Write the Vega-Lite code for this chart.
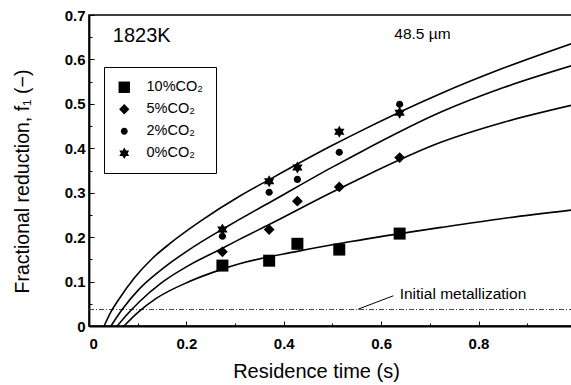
{
  "$schema": "https://vega.github.io/schema/vega-lite/v6.json",
  "width": 483,
  "height": 311,
  "autosize": {"type": "none"},
  "padding": {"left": 89, "top": 15, "right": 0, "bottom": 59},
  "config": {
    "view": {"stroke": "black", "strokeWidth": 1.5},
    "font": "Liberation Sans",
    "axis": {"labelFont": "Liberation Sans", "titleFont": "Liberation Sans", "labelColor": "black", "titleColor": "black", "tickColor": "black", "domainColor": "black", "grid": false}
  },
  "datasets": {
    "pts": [
      {"t": 0.274, "f": 0.136, "g": "10%CO₂"}, {"t": 0.370, "f": 0.147, "g": "10%CO₂"}, {"t": 0.428, "f": 0.185, "g": "10%CO₂"}, {"t": 0.514, "f": 0.172, "g": "10%CO₂"}, {"t": 0.638, "f": 0.208, "g": "10%CO₂"},
      {"t": 0.274, "f": 0.167, "g": "5%CO₂"}, {"t": 0.370, "f": 0.217, "g": "5%CO₂"}, {"t": 0.428, "f": 0.281, "g": "5%CO₂"}, {"t": 0.514, "f": 0.313, "g": "5%CO₂"}, {"t": 0.638, "f": 0.379, "g": "5%CO₂"},
      {"t": 0.274, "f": 0.202, "g": "2%CO₂"}, {"t": 0.370, "f": 0.301, "g": "2%CO₂"}, {"t": 0.428, "f": 0.330, "g": "2%CO₂"}, {"t": 0.514, "f": 0.391, "g": "2%CO₂"}, {"t": 0.638, "f": 0.499, "g": "2%CO₂"},
      {"t": 0.274, "f": 0.217, "g": "0%CO₂"}, {"t": 0.370, "f": 0.326, "g": "0%CO₂"}, {"t": 0.428, "f": 0.357, "g": "0%CO₂"}, {"t": 0.514, "f": 0.437, "g": "0%CO₂"}, {"t": 0.638, "f": 0.480, "g": "0%CO₂"}
    ],
    "curves": [
      {"s": "A", "t": 0.031, "f": 0}, {"s": "A", "t": 0.045, "f": 0.032}, {"s": "A", "t": 0.06, "f": 0.058}, {"s": "A", "t": 0.093, "f": 0.108}, {"s": "A", "t": 0.13, "f": 0.152}, {"s": "A", "t": 0.169, "f": 0.188}, {"s": "A", "t": 0.229, "f": 0.236}, {"s": "A", "t": 0.309, "f": 0.292}, {"s": "A", "t": 0.371, "f": 0.330}, {"s": "A", "t": 0.497, "f": 0.405}, {"s": "A", "t": 0.538, "f": 0.428}, {"s": "A", "t": 0.724, "f": 0.524}, {"s": "A", "t": 0.85, "f": 0.58}, {"s": "A", "t": 0.992, "f": 0.636},
      {"s": "B", "t": 0.045, "f": 0}, {"s": "B", "t": 0.07, "f": 0.04}, {"s": "B", "t": 0.103, "f": 0.083}, {"s": "B", "t": 0.15, "f": 0.128}, {"s": "B", "t": 0.206, "f": 0.172}, {"s": "B", "t": 0.276, "f": 0.219}, {"s": "B", "t": 0.309, "f": 0.240}, {"s": "B", "t": 0.371, "f": 0.278}, {"s": "B", "t": 0.497, "f": 0.356}, {"s": "B", "t": 0.538, "f": 0.380}, {"s": "B", "t": 0.724, "f": 0.482}, {"s": "B", "t": 0.85, "f": 0.536}, {"s": "B", "t": 0.992, "f": 0.586},
      {"s": "C", "t": 0.058, "f": 0}, {"s": "C", "t": 0.08, "f": 0.028}, {"s": "C", "t": 0.103, "f": 0.054}, {"s": "C", "t": 0.15, "f": 0.098}, {"s": "C", "t": 0.206, "f": 0.137}, {"s": "C", "t": 0.276, "f": 0.176}, {"s": "C", "t": 0.309, "f": 0.195}, {"s": "C", "t": 0.371, "f": 0.229}, {"s": "C", "t": 0.497, "f": 0.300}, {"s": "C", "t": 0.538, "f": 0.322}, {"s": "C", "t": 0.724, "f": 0.414}, {"s": "C", "t": 0.85, "f": 0.458}, {"s": "C", "t": 0.992, "f": 0.497},
      {"s": "D", "t": 0.072, "f": 0}, {"s": "D", "t": 0.1, "f": 0.03}, {"s": "D", "t": 0.138, "f": 0.062}, {"s": "D", "t": 0.206, "f": 0.1}, {"s": "D", "t": 0.274, "f": 0.128}, {"s": "D", "t": 0.309, "f": 0.140}, {"s": "D", "t": 0.428, "f": 0.168}, {"s": "D", "t": 0.538, "f": 0.19}, {"s": "D", "t": 0.724, "f": 0.222}, {"s": "D", "t": 0.85, "f": 0.242}, {"s": "D", "t": 0.992, "f": 0.261}
    ],
    "baseline": [{"t": 0, "t2": 0.992, "f": 0.037}],
    "leader": [{"t": 0.553, "f": 0.038}, {"t": 0.625, "f": 0.068}],
    "labels": [
      {"t": 0.049, "f": 0.652, "txt": "1823K", "k": "big"},
      {"t": 0.627, "f": 0.658, "txt": "48.5 µm", "k": "mid"},
      {"t": 0.638, "f": 0.072, "txt": "Initial metallization", "k": "small"}
    ]
  },
  "layer": [
    {
      "layer": [
        {
          "data": {"name": "baseline"},
          "mark": {"type": "rule", "color": "#444", "strokeWidth": 1, "strokeDash": [5, 2, 1, 2]},
          "encoding": {
            "x": {"field": "t", "type": "quantitative"},
            "x2": {"field": "t2"},
            "y": {"field": "f", "type": "quantitative"}
          }
        },
        {
          "data": {"name": "leader"},
          "mark": {"type": "line", "color": "black", "strokeWidth": 1},
          "encoding": {
            "x": {"field": "t", "type": "quantitative"},
            "y": {"field": "f", "type": "quantitative"}
          }
        },
        {
          "data": {"name": "curves"},
          "mark": {"type": "line", "color": "black", "strokeWidth": 1.6, "interpolate": "monotone"},
          "encoding": {
            "x": {"field": "t", "type": "quantitative"},
            "y": {"field": "f", "type": "quantitative"},
            "detail": {"field": "s"}
          }
        },
        {
          "data": {"name": "pts"},
          "mark": {"type": "point", "filled": true, "color": "black", "opacity": 1, "strokeWidth": 0, "size": 144},
          "encoding": {
            "x": {
              "field": "t", "type": "quantitative",
              "scale": {"domain": [0, 0.992], "nice": false, "zero": false},
              "axis": {"values": [0, 0.2, 0.4, 0.6, 0.8], "labelExpr": "datum.value == 0 ? '0' : format(datum.value, '.1f')", "tickSize": -5, "tickWidth": 1, "domainWidth": 2, "labelPadding": 15, "labelFontSize": 15, "labelFontWeight": "bold", "title": "Residence time (s)", "titleFontSize": 20, "titleFontWeight": "normal", "titlePadding": 10, "titleX": 227, "titleAlign": "center"}
            },
            "y": {
              "field": "f", "type": "quantitative",
              "scale": {"domain": [0, 0.7], "nice": false},
              "axis": {"values": [0, 0.1, 0.2, 0.3, 0.4, 0.5, 0.6, 0.7], "labelExpr": "datum.value == 0 ? '0' : format(datum.value, '.1f')", "tickSize": -5, "tickWidth": 1, "domainWidth": 1.8, "labelPadding": 9, "labelFontSize": 15, "labelFontWeight": "bold", "title": "Fractional reduction, f₁ (−)", "titleFontSize": 19.5, "titleFontWeight": "normal", "titlePadding": 32, "titleY": 166}
            },
            "shape": {
              "field": "g", "type": "nominal",
              "scale": {"domain": ["10%CO₂", "5%CO₂", "2%CO₂", "0%CO₂"], "range": ["M-1,-1H1V1H-1Z", "M0,-0.9L0.9,0L0,0.9L-0.9,0Z", "M-0.6,0A0.6,0.6 0 1,0 0.6,0A0.6,0.6 0 1,0 -0.6,0Z", "M0,-1L0.866,0.5L-0.866,0.5Z M0,1L-0.866,-0.5L0.866,-0.5Z"]},
              "legend": {"title": null, "orient": "none", "legendX": 15, "legendY": 52, "padding": 13, "strokeColor": "black", "labelFont": "Liberation Sans", "labelFontSize": 14.5, "labelColor": "black", "labelOffset": 15, "rowPadding": 7, "symbolSize": 130, "symbolFillColor": "black", "symbolStrokeWidth": 0}
            }
          }
        },
        {
          "data": {"name": "labels"},
          "transform": [{"filter": "datum.k == 'big'"}],
          "mark": {"type": "text", "align": "left", "baseline": "middle", "fontSize": 20, "font": "Liberation Sans", "color": "black"},
          "encoding": {
            "x": {"field": "t", "type": "quantitative"},
            "y": {"field": "f", "type": "quantitative"},
            "text": {"field": "txt"}
          }
        },
        {
          "data": {"name": "labels"},
          "transform": [{"filter": "datum.k == 'mid'"}],
          "mark": {"type": "text", "align": "left", "baseline": "middle", "fontSize": 15.5, "font": "Liberation Sans", "color": "black"},
          "encoding": {
            "x": {"field": "t", "type": "quantitative"},
            "y": {"field": "f", "type": "quantitative"},
            "text": {"field": "txt"}
          }
        },
        {
          "data": {"name": "labels"},
          "transform": [{"filter": "datum.k == 'small'"}],
          "mark": {"type": "text", "align": "left", "baseline": "middle", "fontSize": 15.5, "font": "Liberation Sans", "color": "black"},
          "encoding": {
            "x": {"field": "t", "type": "quantitative"},
            "y": {"field": "f", "type": "quantitative"},
            "text": {"field": "txt"}
          }
        }
      ]
    },
    {
      "data": {"name": "pts"},
      "mark": {"type": "point", "opacity": 0},
      "encoding": {
        "x": {"field": "t", "type": "quantitative", "axis": {"orient": "bottom", "values": [0.1, 0.3, 0.5, 0.7, 0.9], "labels": false, "domain": false, "tickSize": -3, "title": null}},
        "y": {"field": "f", "type": "quantitative", "axis": {"orient": "left", "values": [0.05, 0.15, 0.25, 0.35, 0.45, 0.55, 0.65], "labels": false, "domain": false, "tickSize": -3, "title": null}}
      }
    }
  ],
  "resolve": {"axis": {"x": "independent", "y": "independent"}}
}
